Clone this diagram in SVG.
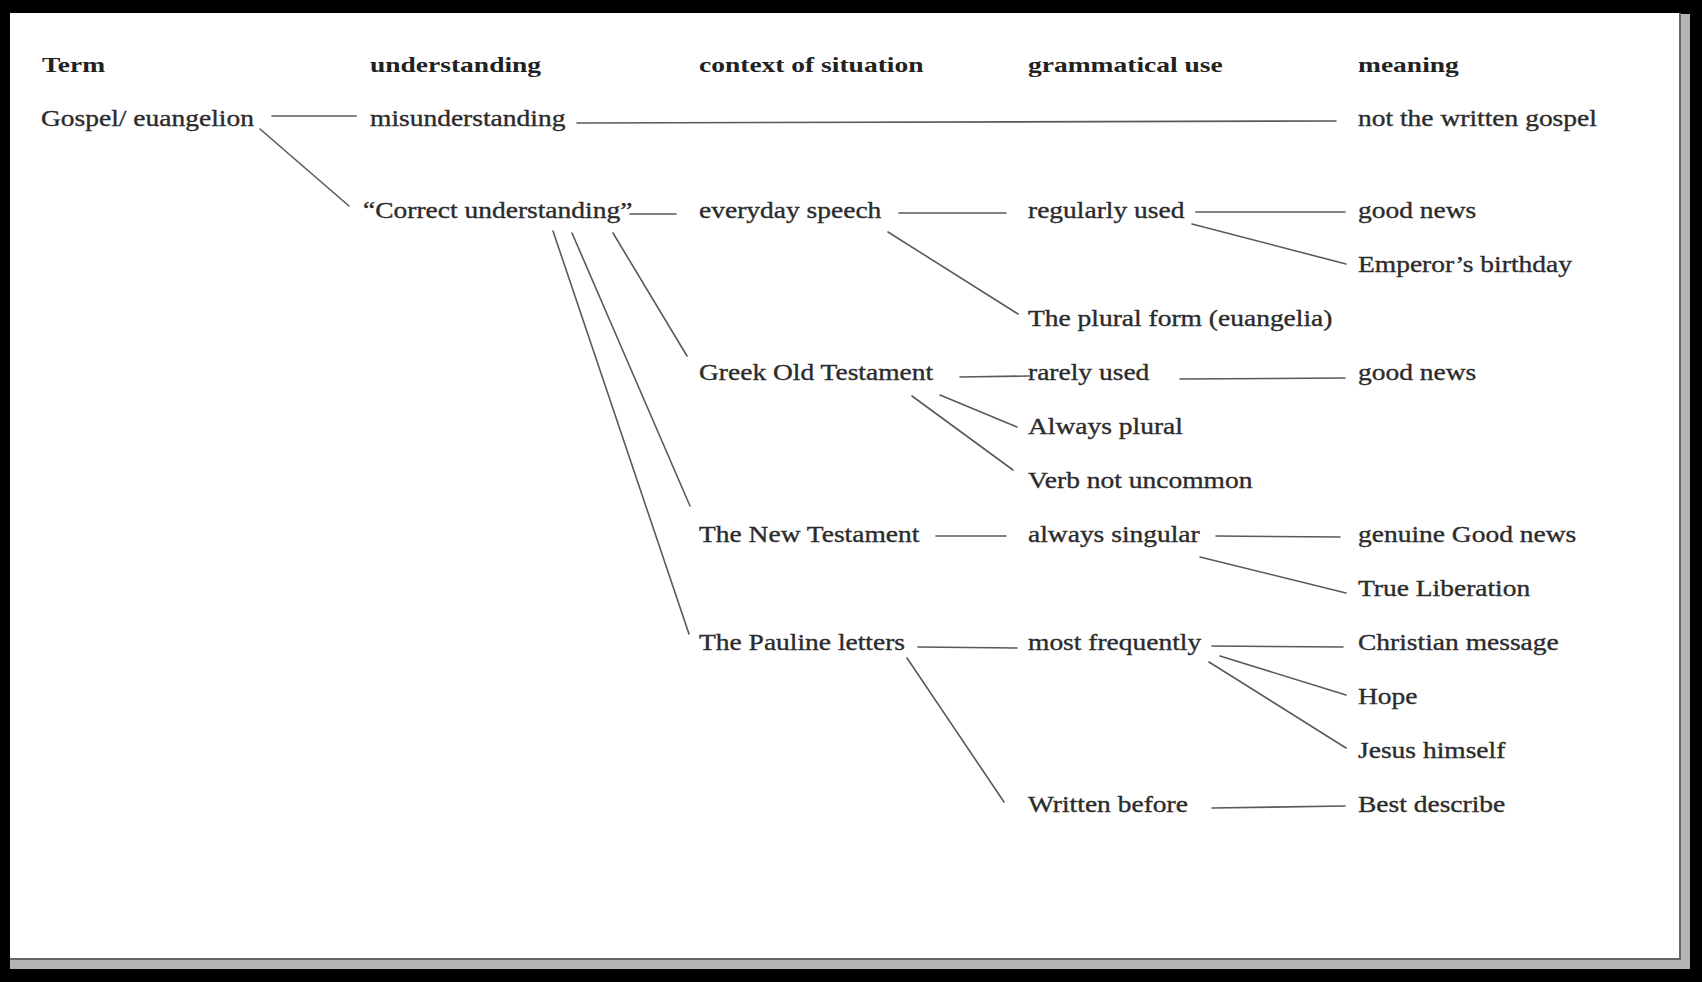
<svg xmlns="http://www.w3.org/2000/svg" width="1702" height="982" viewBox="0 0 1702 982">
<style>
text{font-family:"Liberation Serif","Times New Roman",serif;fill:#2b2b2b}
.b{font-size:23.5px;stroke:#2b2b2b;stroke-width:0.35}
.h{font-size:22px;font-weight:bold;fill:#222}
.c line{stroke:#5a5a5a;stroke-width:1.6;stroke-linecap:round}
</style>
<rect x="0" y="0" width="1702" height="982" fill="#000"/>
<rect x="10" y="14" width="1680" height="955" fill="#b4b4b4"/>
<rect x="10" y="13" width="1670" height="946" fill="#fff"/>
<line x1="1680" y1="13" x2="1680" y2="959" stroke="#666" stroke-width="2"/>
<line x1="10" y1="959" x2="1681" y2="959" stroke="#666" stroke-width="2"/>

<g id="headers">
<text class="h" transform="translate(42,72) scale(1.25 1)">Term</text>
<text class="h" transform="translate(370,72) scale(1.25 1)">understanding</text>
<text class="h" transform="translate(699,72) scale(1.25 1)">context of situation</text>
<text class="h" transform="translate(1028,72) scale(1.25 1)">grammatical use</text>
<text class="h" transform="translate(1358,72) scale(1.25 1)">meaning</text>
</g>

<g class="c" id="connectors">
<line x1="272" y1="116" x2="356" y2="116"/>
<line x1="577" y1="123" x2="1336" y2="121"/>
<line x1="260" y1="129" x2="349" y2="206"/>
<line x1="630" y1="214" x2="676" y2="214"/>
<line x1="899" y1="213" x2="1006" y2="213"/>
<line x1="1196" y1="212" x2="1345" y2="212"/>
<line x1="1192" y1="224" x2="1346" y2="264"/>
<line x1="888" y1="232" x2="1018" y2="314"/>
<line x1="613" y1="233" x2="687" y2="356"/>
<line x1="572" y1="233" x2="690" y2="506"/>
<line x1="553" y1="231" x2="689" y2="634"/>
<line x1="960" y1="377" x2="1029" y2="376"/>
<line x1="1180" y1="379" x2="1345" y2="378"/>
<line x1="940" y1="395" x2="1017" y2="427"/>
<line x1="912" y1="396" x2="1013" y2="470"/>
<line x1="936" y1="536" x2="1006" y2="536"/>
<line x1="1216" y1="536" x2="1340" y2="537"/>
<line x1="1200" y1="557" x2="1346" y2="593"/>
<line x1="918" y1="647" x2="1017" y2="648"/>
<line x1="1212" y1="646" x2="1343" y2="647"/>
<line x1="1220" y1="656" x2="1346" y2="695"/>
<line x1="1209" y1="662" x2="1346" y2="748"/>
<line x1="907" y1="658" x2="1004" y2="802"/>
<line x1="1212" y1="808" x2="1345" y2="806"/>
</g>

<g id="n-gospel"><text class="b" transform="translate(41,126) scale(1.17 1)">Gospel/ euangelion</text></g>
<g id="n-misunderstanding"><text class="b" transform="translate(370,126) scale(1.17 1)">misunderstanding</text></g>
<g id="n-notwritten"><text class="b" transform="translate(1358,126) scale(1.17 1)">not the written gospel</text></g>
<g id="n-correct"><text class="b" transform="translate(363,218) scale(1.17 1)">“Correct understanding”</text></g>
<g id="n-everyday"><text class="b" transform="translate(699,218) scale(1.17 1)">everyday speech</text></g>
<g id="n-regularly"><text class="b" transform="translate(1028,218) scale(1.17 1)">regularly used</text></g>
<g id="n-goodnews1"><text class="b" transform="translate(1358,218) scale(1.17 1)">good news</text></g>
<g id="n-emperor"><text class="b" transform="translate(1358,272) scale(1.17 1)">Emperor’s birthday</text></g>
<g id="n-plural"><text class="b" transform="translate(1028,326) scale(1.17 1)">The plural form (euangelia)</text></g>
<g id="n-greek"><text class="b" transform="translate(699,380) scale(1.17 1)">Greek Old Testament</text></g>
<g id="n-rarely"><text class="b" transform="translate(1028,380) scale(1.17 1)">rarely used</text></g>
<g id="n-goodnews2"><text class="b" transform="translate(1358,380) scale(1.17 1)">good news</text></g>
<g id="n-alwaysplural"><text class="b" transform="translate(1028,434) scale(1.17 1)">Always plural</text></g>
<g id="n-verb"><text class="b" transform="translate(1028,488) scale(1.17 1)">Verb not uncommon</text></g>
<g id="n-nt"><text class="b" transform="translate(699,542) scale(1.17 1)">The New Testament</text></g>
<g id="n-singular"><text class="b" transform="translate(1028,542) scale(1.17 1)">always singular</text></g>
<g id="n-genuine"><text class="b" transform="translate(1358,542) scale(1.17 1)">genuine Good news</text></g>
<g id="n-liberation"><text class="b" transform="translate(1358,596) scale(1.17 1)">True Liberation</text></g>
<g id="n-pauline"><text class="b" transform="translate(699,650) scale(1.17 1)">The Pauline letters</text></g>
<g id="n-mostfreq"><text class="b" transform="translate(1028,650) scale(1.17 1)">most frequently</text></g>
<g id="n-christian"><text class="b" transform="translate(1358,650) scale(1.17 1)">Christian message</text></g>
<g id="n-hope"><text class="b" transform="translate(1358,704) scale(1.17 1)">Hope</text></g>
<g id="n-jesus"><text class="b" transform="translate(1358,758) scale(1.17 1)">Jesus himself</text></g>
<g id="n-written"><text class="b" transform="translate(1028,812) scale(1.17 1)">Written before</text></g>
<g id="n-best"><text class="b" transform="translate(1358,812) scale(1.17 1)">Best describe</text></g>
</svg>
